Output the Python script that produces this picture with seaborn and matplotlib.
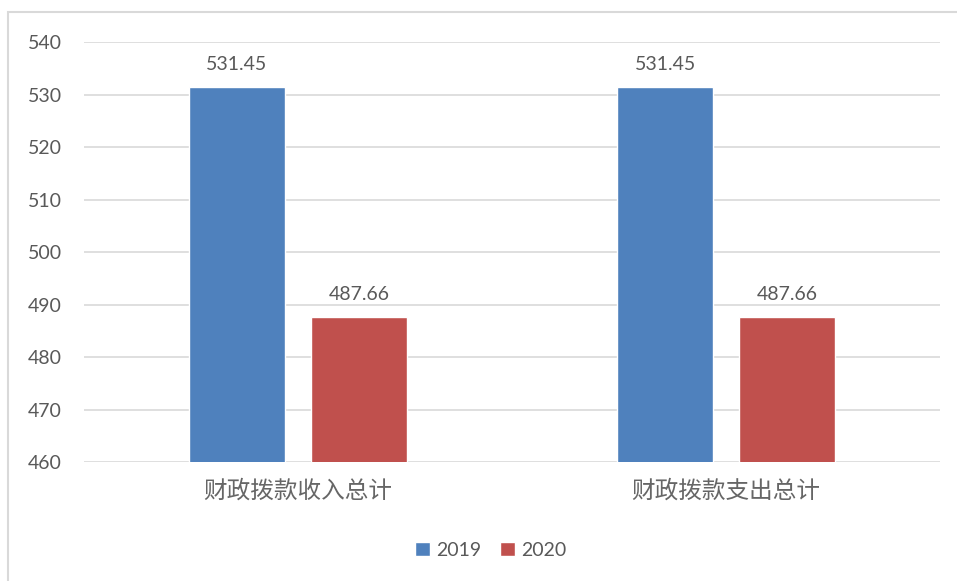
import pandas as pd
import matplotlib.pyplot as plt
import seaborn as sns
from matplotlib.patches import Rectangle

# Data
categories = ["财政拨款收入总计", "财政拨款支出总计"]
years = ["2019", "2020"]
values_2019 = [531.45, 531.45]
values_2020 = [487.66, 487.66]

df = pd.DataFrame({
    "类别": categories * 2,
    "年份": [years[0]] * 2 + [years[1]] * 2,
    "金额": values_2019 + values_2020,
})

sns.set_style("white")
plt.rcParams["font.family"] = ["Lato", "Noto Sans CJK SC", "DejaVu Sans"]

text_color = "#595959"
grid_color = "#D9D9D9"
palette = {"2019": "#4F81BD", "2020": "#C0504D"}

fig = plt.figure(figsize=(9.57, 5.81), dpi=100)
ax = fig.add_axes([0.0878, 0.2048, 0.8945, 0.7229])

sns.barplot(data=df, x="类别", y="金额", hue="年份", palette=palette,
            width=0.57, gap=0.22, ax=ax, saturation=1, zorder=3)

ax.set_ylim(460, 540)
ax.set_yticks(range(460, 541, 10))
ax.set_xlim(-0.5, 1.5)
ax.yaxis.grid(True, color=grid_color, linewidth=1.2, zorder=0)
ax.set_axisbelow(True)
for s in ax.spines.values():
    s.set_visible(False)
ax.tick_params(axis="both", length=0, labelsize=14, colors=text_color)
ax.tick_params(axis="y", pad=16)
ax.tick_params(axis="x", pad=12)
for lbl in ax.get_xticklabels():
    lbl.set_fontsize(17)
    lbl.set_color("#666666")
ax.set_xlabel("")
ax.set_ylabel("")

# Data labels
for cont in ax.containers:
    ax.bar_label(cont, fmt="%.2f", padding=10, fontsize=14, color=text_color)

# Legend
leg = ax.legend(loc="center", bbox_to_anchor=(0.475, -0.21), ncol=2, frameon=False,
                fontsize=14, handlelength=0.75, handleheight=0.75, handletextpad=0.3,
                columnspacing=1.0, labelcolor=text_color)

# Outer chart border (top and left visible)
fig.patches.append(Rectangle((8 / 957, -0.1), 1.2, 1 - 12 / 581 + 0.1, transform=fig.transFigure,
                             fill=False, edgecolor=grid_color, linewidth=1.5))

plt.savefig("out.png", dpi=100)
